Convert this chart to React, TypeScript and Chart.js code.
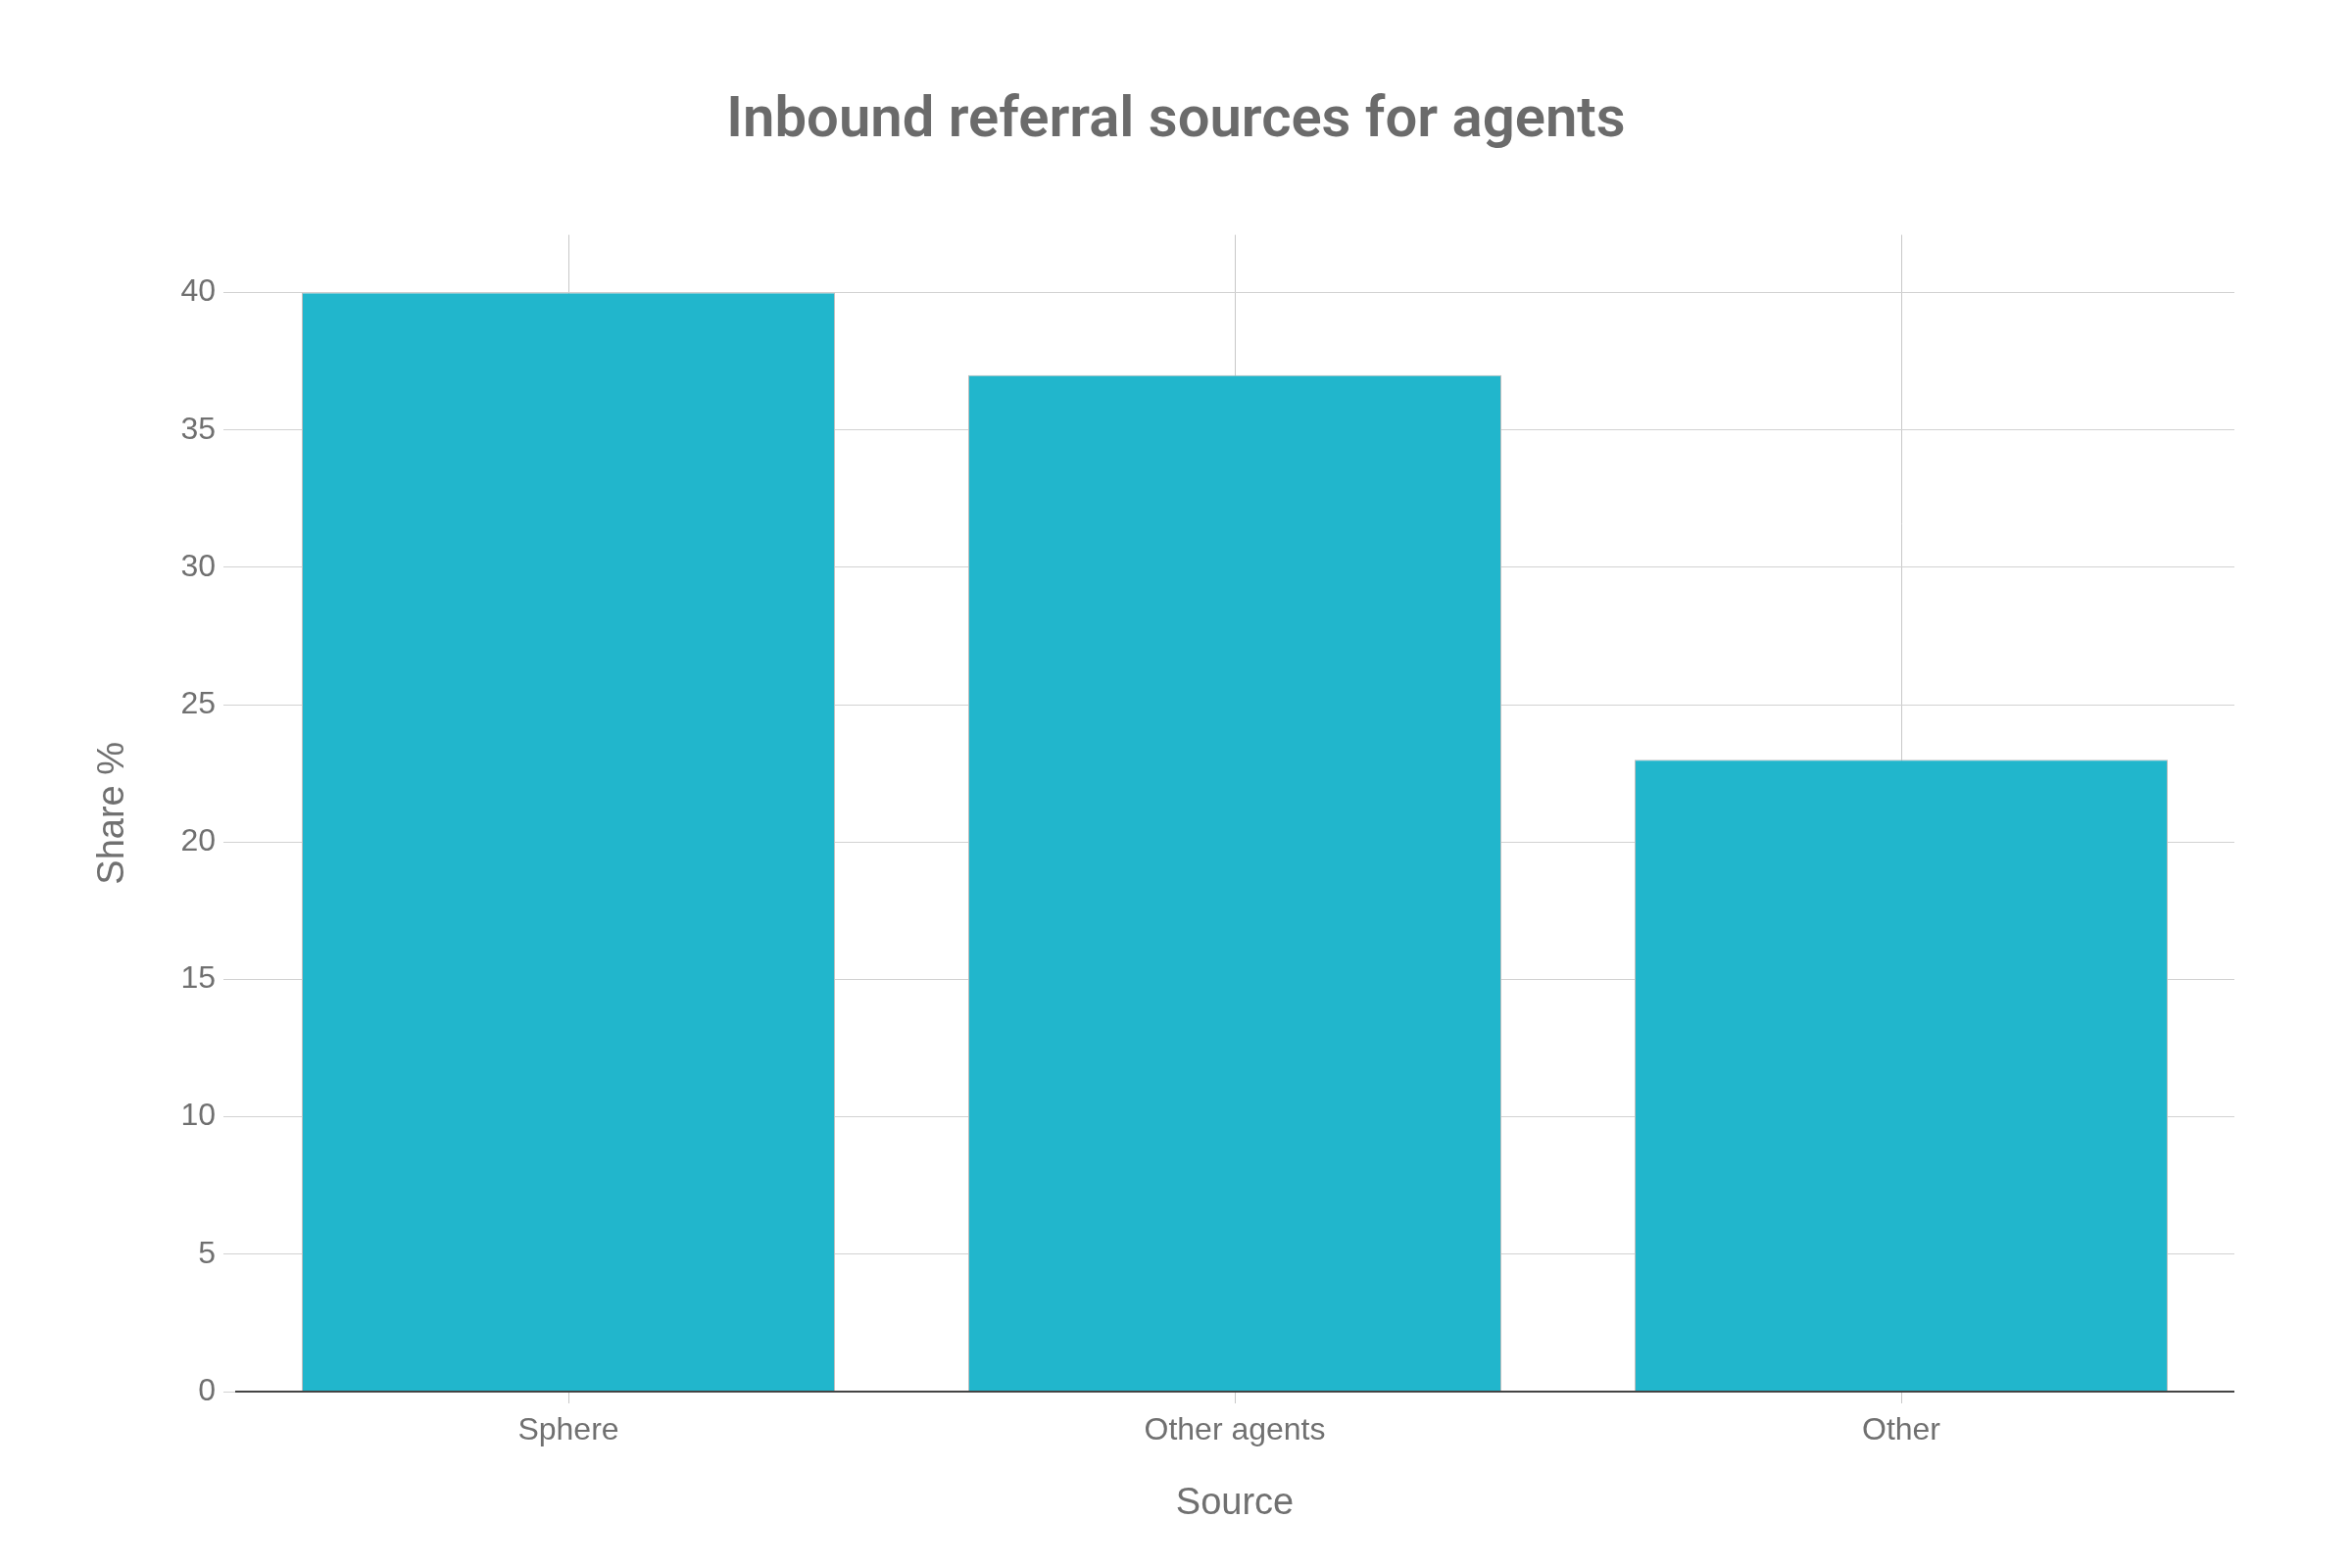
import { useEffect, useRef } from 'react';
import { Chart, registerables } from 'chart.js';

Chart.register(...registerables);

const sources = ['Sphere', 'Other agents', 'Other'];
const sharePct = [40, 37, 23];
const yTickValues = [0, 5, 10, 15, 20, 25, 30, 35, 40];

const TEXT = '#707070';
const GRID = '#d2d2d2';

// redraw the zero line on top of the bars, like the original
const baselinePlugin = {
  id: 'baseline',
  afterDatasetsDraw(chart: Chart) {
    const { ctx, chartArea } = chart;
    ctx.save();
    ctx.strokeStyle = '#444444';
    ctx.lineWidth = 2;
    ctx.beginPath();
    ctx.moveTo(chartArea.left, chartArea.bottom);
    ctx.lineTo(chartArea.right, chartArea.bottom);
    ctx.stroke();
    ctx.restore();
  },
};

export default function App() {
  const canvasRef = useRef<HTMLCanvasElement>(null);

  useEffect(() => {
    if (!canvasRef.current) return;
    const ctx = canvasRef.current.getContext('2d');
    if (!ctx) return;

    const chart = new Chart(ctx, {
      type: 'bar',
      data: {
        labels: sources,
        datasets: [{
          data: sharePct,
          backgroundColor: '#21b6cc',
          borderColor: '#bfbfbf',
          borderWidth: 1,
          barPercentage: 0.8,
          categoryPercentage: 1,
        }],
      },
      options: {
        animation: false,
        responsive: false,
        devicePixelRatio: 1,
        layout: { padding: 0 },
        plugins: {
          legend: { display: false },
          tooltip: { enabled: false },
          title: {
            display: true,
            text: 'Inbound referral sources for agents',
            color: '#6b6b6b',
            font: { family: 'Roboto, "Liberation Sans", sans-serif', size: 58, weight: 600, lineHeight: 1.2 },
            padding: { top: 90, bottom: 80 },
          },
        },
        scales: {
          x: {
            afterFit: (scale) => { scale.height = 180; },
            grid: { offset: false, color: '#c8c8c8', tickLength: 12 },
            border: { display: false },
            ticks: {
              color: TEXT,
              padding: 9,
              font: { family: '"Liberation Sans", Arial, sans-serif', size: 32 },
            },
            title: {
              display: true,
              text: 'Source',
              color: TEXT,
              font: { family: '"Liberation Sans", Arial, sans-serif', size: 38, lineHeight: 1.2 },
              padding: { top: 0, bottom: 43 },
            },
          },
          y: {
            min: 0,
            max: 42.105,
            afterFit: (scale) => { scale.width = 240; },
            afterBuildTicks: (scale) => {
              scale.ticks = yTickValues.map((v) => ({ value: v }));
            },
            grid: { color: GRID, tickLength: 12 },
            border: { display: false },
            ticks: {
              color: TEXT,
              padding: 8,
              font: { family: '"Liberation Sans", Arial, sans-serif', size: 32 },
            },
            title: {
              display: true,
              text: 'Share %',
              color: TEXT,
              font: { family: '"Liberation Sans", Arial, sans-serif', size: 38, lineHeight: 1.2 },
              padding: { top: 93, bottom: 0 },
            },
          },
          // empty right margin so the title stays centred on the whole canvas
          yRight: {
            position: 'right',
            afterFit: (scale) => { scale.width = 120; },
            grid: { display: false },
            border: { display: false },
            ticks: { display: false },
          },
        },
      },
      plugins: [baselinePlugin],
    });

    return () => chart.destroy();
  }, []);

  return (
    <div style={{ position: 'absolute', left: 0, top: 0, width: 2400, height: 1600, background: '#fff' }}>
      <canvas ref={canvasRef} width={2400} height={1600} />
    </div>
  );
}
